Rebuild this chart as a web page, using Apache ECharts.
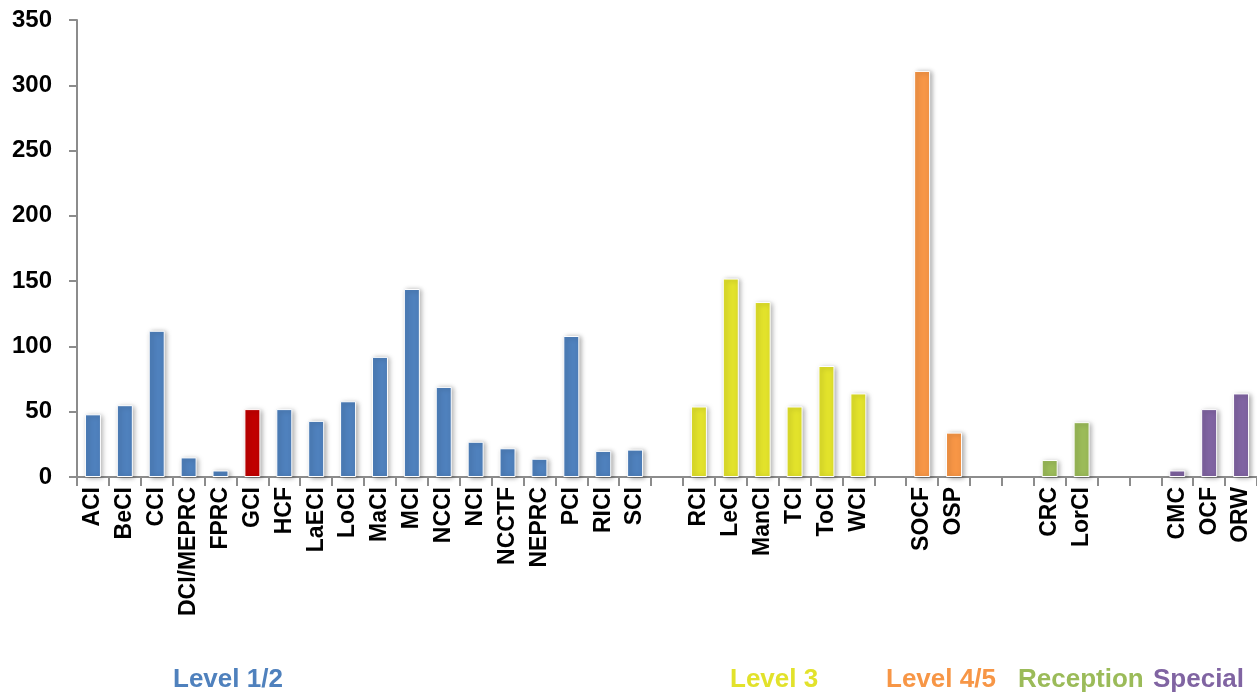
<!DOCTYPE html>
<html lang="en">
<head>
    <meta charset="UTF-8">
    <title>Facility counts by level</title>
    <script src="https://cdn.jsdelivr.net/npm/echarts@6/dist/echarts.min.js"></script>
    <style>
        html, body { margin: 0; padding: 0; background: #fff; }
    </style>
</head>
<body>
    <div id="myChart" style="width: 1257px; height: 694px;"></div>
    <script>
        // facilities, blank entries are spacer slots between the groups
        const facilities = [
            'ACI', 'BeCI', 'CCI', 'DCI/MEPRC', 'FPRC', 'GCI', 'HCF', 'LaECI', 'LoCI',
            'MaCI', 'MCI', 'NCCI', 'NCI', 'NCCTF', 'NEPRC', 'PCI', 'RICI', 'SCI',
            ' ',
            'RCI', 'LeCI', 'ManCI', 'TCI', 'ToCI', 'WCI',
            '  ',
            'SOCF', 'OSP',
            '   ', '    ',
            'CRC', 'LorCI',
            '     ', '      ',
            'CMC', 'OCF', 'ORW'
        ];
        const counts = [
            48, 55, 112, 15, 5, 52, 52, 43, 58,
            92, 144, 69, 27, 22, 14, 108, 20, 21,
            null,
            54, 152, 134, 54, 85, 64,
            null,
            311, 34,
            null, null,
            13, 42,
            null, null,
            5, 52, 64
        ];
        // group of each slot ('' for spacers)
        const groupOf = [
            'L12', 'L12', 'L12', 'L12', 'L12', 'GCI', 'L12', 'L12', 'L12',
            'L12', 'L12', 'L12', 'L12', 'L12', 'L12', 'L12', 'L12', 'L12',
            '',
            'L3', 'L3', 'L3', 'L3', 'L3', 'L3',
            '',
            'L45', 'L45',
            '', '',
            'REC', 'REC',
            '', '',
            'SPE', 'SPE', 'SPE'
        ];
        const groupColors = {
            L12: '#4F81BD', GCI: '#C00000', L3: '#E2E22B',
            L45: '#F79646', REC: '#9BBB59', SPE: '#8064A2'
        };
        const groupNames = ['Level 1/2', 'Level 3', 'Level 4/5', 'Reception', 'Special'];
        const groupNameColors = ['#4F81BD', '#E2E22B', '#F79646', '#9BBB59', '#8064A2'];
        const groupNameX = [173, 730, 886, 1018, 1153];
        const yTicks = [0, 50, 100, 150, 200, 250, 300, 350];

        const myChart = echarts.init(document.getElementById('myChart'));

        const barData = counts.map((v, i) => ({
            value: v,
            itemStyle: { color: groupColors[groupOf[i]] || '#4F81BD' }
        }));

        const axisGrey = '#8C8C8C';
        const labelFont = '"Liberation Sans", Arial, sans-serif';

        const option = {
            animation: false,
            grid: { left: 77, right: 0, top: 20, bottom: 217 },
            xAxis: {
                type: 'category',
                data: facilities,
                boundaryGap: true,
                axisLine: { lineStyle: { color: axisGrey, width: 2 } },
                axisTick: { show: true, length: 9, lineStyle: { color: axisGrey, width: 2 } },
                axisLabel: {
                    interval: 0,
                    rotate: 90,
                    margin: 10,
                    color: '#000',
                    fontFamily: labelFont,
                    fontWeight: 'bold',
                    fontSize: 23
                }
            },
            yAxis: {
                type: 'value',
                min: yTicks[0],
                max: yTicks[yTicks.length - 1],
                interval: 50,
                splitLine: { show: false },
                axisLine: { show: true, lineStyle: { color: axisGrey, width: 2 } },
                axisTick: { show: true, length: 8, lineStyle: { color: axisGrey, width: 2 } },
                axisLabel: {
                    margin: 25,
                    color: '#000',
                    fontFamily: labelFont,
                    fontWeight: 'bold',
                    fontSize: 24
                }
            },
            series: [{
                type: 'bar',
                data: barData,
                barWidth: 16,
                itemStyle: {
                    borderColor: '#fff',
                    borderWidth: 1,
                    shadowBlur: 5,
                    shadowColor: 'rgba(0,0,0,0.35)',
                    shadowOffsetX: 2,
                    shadowOffsetY: 1
                }
            }],
            graphic: groupNames.map((name, i) => ({
                type: 'text',
                left: groupNameX[i],
                top: 667,
                style: {
                    text: name,
                    fill: groupNameColors[i],
                    font: 'bold 26px "Liberation Sans", Arial, sans-serif'
                }
            }))
        };
        myChart.setOption(option);
    </script>
</body>
</html>
